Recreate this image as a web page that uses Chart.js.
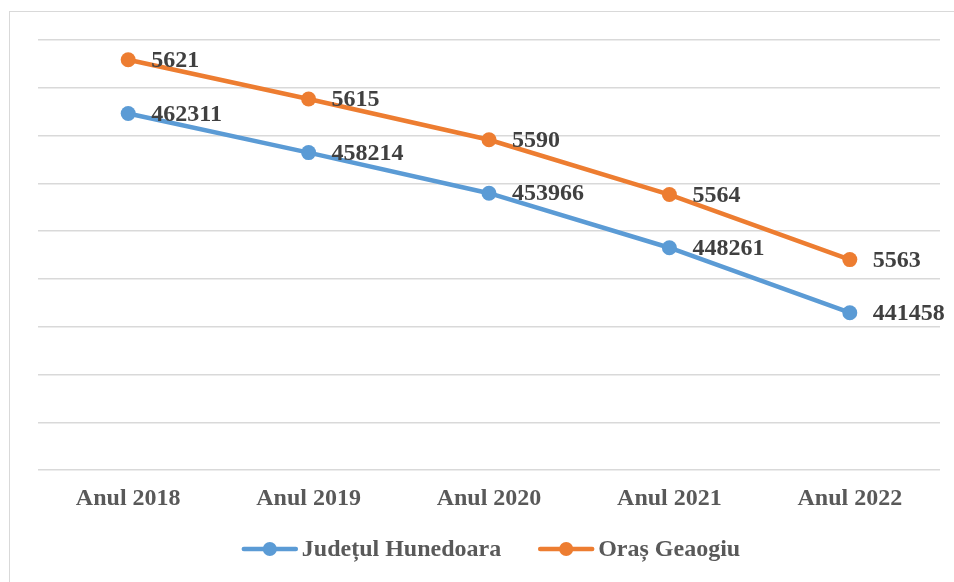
<!DOCTYPE html>
<html>
<head>
<meta charset="utf-8">
<script src="https://cdn.jsdelivr.net/npm/chart.js@4.4.1/dist/chart.umd.min.js"></script>
<style>
  html, body { margin: 0; padding: 0; background: #fff; overflow: hidden; }
  #wrap { position: relative; width: 954px; height: 582px; overflow: hidden; }
  #frame { position: absolute; left: 9px; top: 11px; width: 1000px; height: 1000px; border: 1.5px solid #d9d9d9; }
  #chart { position: absolute; left: 0; top: 0; }
</style>
</head>
<body>
<div id="wrap">
  <div id="frame"></div>
  <canvas id="chart" width="954" height="582"></canvas>
</div>
<script>
// years on the x axis
const years = ["Anul 2018", "Anul 2019", "Anul 2020", "Anul 2021", "Anul 2022"];
// population values
const hunedoara = [462311, 458214, 453966, 448261, 441458];
const geaogiu = [5621, 5615, 5590, 5564, 5563];
const seriesNames = ["Județul Hunedoara", "Oraș Geaogiu"];
const seriesColors = ["#5B9BD5", "#ED7D31"];

const FONT = "'Liberation Serif', 'Times New Roman', serif";
const BOLD24 = "bold 24px " + FONT;

// value labels to the right of each point
const valueLabels = {
  id: "valueLabels",
  afterDatasetsDraw(chart) {
    const ctx = chart.ctx;
    ctx.save();
    ctx.font = BOLD24;
    ctx.fillStyle = "#404040";
    ctx.textBaseline = "middle";
    chart.data.datasets.forEach((ds, i) => {
      chart.getDatasetMeta(i).data.forEach((pt, j) => {
        ctx.fillText(String(ds.data[j]), pt.x + 23, pt.y + 1);
      });
    });
    ctx.restore();
  },
};

// legend under the axis: line + dot sample, then the series name
const lineLegend = {
  id: "lineLegend",
  afterDraw(chart) {
    const ctx = chart.ctx;
    const a = chart.chartArea;
    const y = 549;
    const sample = 56, textGap = 4, itemGap = 37;
    ctx.save();
    ctx.font = BOLD24;
    const widths = chart.data.datasets.map((ds) => ctx.measureText(ds.label).width);
    const total = widths.reduce((s, w) => s + sample + textGap + w, 0) + itemGap * (widths.length - 1);
    let x = (a.left + a.right) / 2 + 2 - total / 2;
    chart.data.datasets.forEach((ds, i) => {
      ctx.strokeStyle = ds.borderColor;
      ctx.fillStyle = ds.borderColor;
      ctx.lineWidth = 4.5;
      ctx.lineCap = "round";
      ctx.beginPath();
      ctx.moveTo(x + 2, y);
      ctx.lineTo(x + sample - 2, y);
      ctx.stroke();
      ctx.beginPath();
      ctx.arc(x + sample / 2, y, 7, 0, Math.PI * 2);
      ctx.fill();
      x += sample + textGap;
      ctx.fillStyle = "#595959";
      ctx.textBaseline = "middle";
      ctx.fillText(ds.label, x, y + 1);
      x += widths[i] + itemGap;
    });
    ctx.restore();
  },
};

new Chart(document.getElementById("chart"), {
  type: "line",
  data: {
    labels: years,
    datasets: [hunedoara, geaogiu].map((values, i) => ({
      label: seriesNames[i],
      data: values,
      borderColor: seriesColors[i],
      backgroundColor: seriesColors[i],
      borderWidth: 4.5,
      pointRadius: 7.5,
      pointHoverRadius: 7.5,
      pointBorderWidth: 0,
      fill: false,
      tension: 0,
    })),
  },
  options: {
    responsive: false,
    animation: false,
    events: [],
    layout: { padding: { left: 38, right: 14, top: 40, bottom: 69 } },
    plugins: {
      tooltip: { enabled: false },
      legend: { display: false },
    },
    scales: {
      x: {
        offset: true,
        grid: { display: false },
        border: { display: false },
        afterFit(scale) { scale.height = 43; },
        ticks: {
          color: "#595959",
          padding: 6,
          maxRotation: 0,
          minRotation: 0,
          autoSkip: false,
          font: { family: FONT, size: 24, weight: "bold" },
        },
      },
      y: {
        stacked: true,
        min: 425000,
        max: 470000,
        grid: { color: "#d9d9d9", lineWidth: 1.4, drawTicks: false },
        border: { display: false },
        ticks: { display: false, stepSize: 5000 },
      },
    },
  },
  plugins: [valueLabels, lineLegend],
});
</script>
</body>
</html>
